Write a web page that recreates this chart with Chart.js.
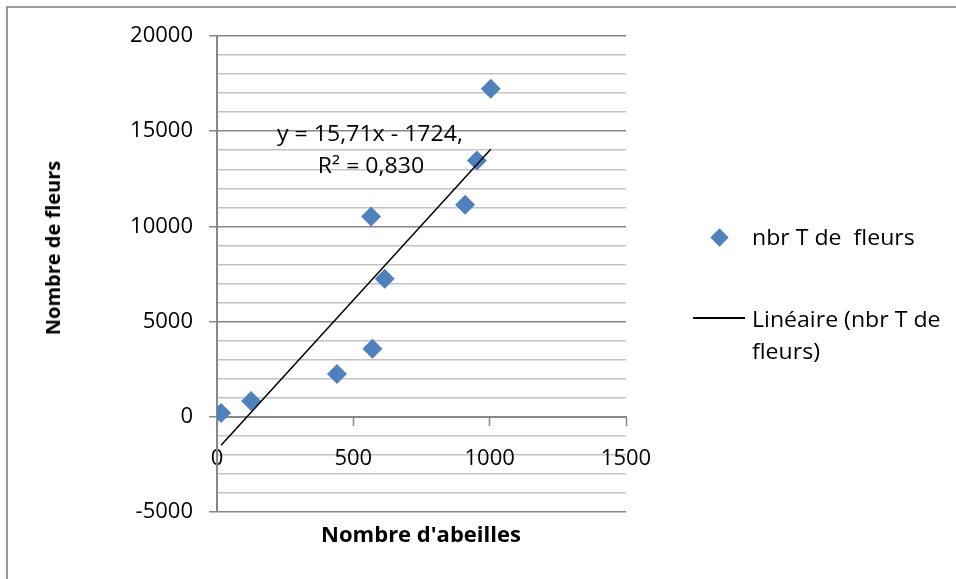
<!DOCTYPE html>
<html>
<head>
<meta charset="utf-8">
<script src="https://cdn.jsdelivr.net/npm/chart.js@4/dist/chart.umd.min.js"></script>
<style>
    body { margin: 0; background: #fff; font-family: "Open Sans", sans-serif; overflow: hidden; }
    #wrap { position: relative; width: 956px; height: 579px; overflow: hidden; }
    .hline { position: absolute; left: 6px; top: 6px; width: 950px; height: 2px; background: #9a9a9a; }
    .vline { position: absolute; left: 6px; top: 6px; width: 2px; height: 573px; background: #9a9a9a; }
    canvas { position: absolute; left: 0; top: 0; }
    .txt { position: absolute; font-size: 21px; color: #000; white-space: pre; line-height: 1; }
    .bold { font-weight: bold; }
</style>
</head>
<body>
<div id="wrap">
    <div class="hline"></div>
    <div class="vline"></div>
    <canvas id="chart" width="956" height="579"></canvas>

    <div class="txt" style="left:370px; top:123px; transform:translateX(-50%) scaleX(1.1);">y = 15,71x - 1724,</div>
    <div class="txt" style="left:371px; top:155px; transform:translateX(-50%) scaleX(1.1);">R² = 0,830</div>

    <div class="txt bold" style="left:421px; top:522px; font-size:22px; transform:translateX(-50%);">Nombre d'abeilles</div>
    <div class="txt bold" style="left:53px; top:248px; font-size:20px; transform:translate(-50%,-50%) rotate(-90deg);">Nombre de fleurs</div>

    <!-- legend -->
    <div style="position:absolute; left:713px; top:231px; width:13px; height:13px; background:#4f81bd; transform:rotate(45deg);"></div>
    <div class="txt" style="left:752px; top:227px; transform-origin:left; transform:scaleX(1.1);">nbr T de  fleurs</div>
    <div style="position:absolute; left:693px; top:317px; width:52px; height:1.5px; background:#000;"></div>
    <div class="txt" style="left:752px; top:309px; transform-origin:left; transform:scaleX(1.1);">Linéaire (nbr T de</div>
    <div class="txt" style="left:752px; top:341px; transform-origin:left; transform:scaleX(1.1);">fleurs)</div>
</div>

<script>
/* ---------------- Data ---------------- */
const abeilles = [15, 125, 440, 570, 615, 565, 910, 953, 1004];
const fleurs   = [200, 830, 2250, 3580, 7250, 10520, 11140, 13460, 17230];

// linear trendline endpoints (y = 15,71x - 1724)
const trendX = [15, 1004];
const trendY = [-1488, 14049];

const xTicks = [0, 500, 1000, 1500];
const yMin = -5000, yMax = 20000;

const MAJOR = "#878787";
const MINOR = "#c3c3c3";
const FONT = { family: "'Open Sans', sans-serif", size: 22 };

/* ---------------- Chart ---------------- */
const points = abeilles.map((x, i) => ({ x, y: fleurs[i] }));
const trend = trendX.map((x, i) => ({ x, y: trendY[i] }));

new Chart(document.getElementById("chart"), {
    type: "scatter",
    data: {
        datasets: [
            {
                label: "nbr T de  fleurs",
                data: points,
                pointStyle: "rectRot",
                pointRadius: 10,
                pointBackgroundColor: "#4f81bd",
                pointBorderColor: "#4f81bd",
                pointBorderWidth: 0,
                order: 2
            },
            {
                label: "Linéaire (nbr T de fleurs)",
                type: "line",
                data: trend,
                borderColor: "#000",
                borderWidth: 1.5,
                pointRadius: 0,
                fill: false,
                order: 1
            }
        ]
    },
    options: {
        responsive: false,
        animation: false,
        events: [],
        layout: { padding: { left: 0, top: 36, right: 330, bottom: 67 } },
        plugins: {
            legend: { display: false },
            tooltip: { enabled: false }
        },
        scales: {
            x: {
                type: "linear",
                position: { y: 0 },
                min: 0,
                max: 1500,
                afterBuildTicks: s => { s.ticks = xTicks.map(v => ({ value: v })); },
                ticks: {
                    color: "#000",
                    font: FONT,
                    padding: 21,
                    autoSkip: false,
                    maxRotation: 0,
                    callback: v => String(v)
                },
                grid: {
                    drawOnChartArea: false,
                    tickLength: 8,
                    tickColor: MAJOR,
                    tickWidth: 1.5
                },
                border: { color: MAJOR, width: 2 }
            },
            y: {
                type: "linear",
                min: yMin,
                max: yMax,
                afterFit: s => { s.width = 217; },
                ticks: {
                    stepSize: 1000,
                    autoSkip: false,
                    color: "#000",
                    font: FONT,
                    padding: 16,
                    callback: v => (v % 5000 === 0 ? String(v) : "")
                },
                grid: {
                    color: c => (c.tick.value % 5000 === 0 ? MAJOR : MINOR),
                    lineWidth: 1.5,
                    tickLength: 8,
                    tickColor: c => (c.tick.value % 5000 === 0 ? MAJOR : "rgba(0,0,0,0)")
                },
                border: { color: MAJOR, width: 2 }
            }
        }
    }
});
</script>
</body>
</html>
